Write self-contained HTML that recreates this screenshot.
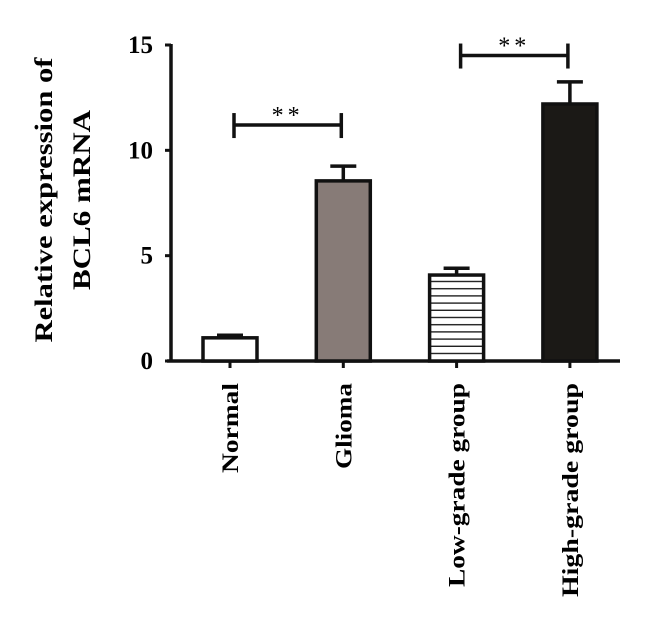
<!DOCTYPE html>
<html><head><meta charset="utf-8"><style>
html,body{margin:0;padding:0;background:#fff;}
svg{display:block;font-family:"Liberation Serif",serif;font-weight:bold;}
</style></head><body>
<svg id="chart" width="660" height="629" viewBox="0 0 660 629" xmlns="http://www.w3.org/2000/svg">
<defs>
<pattern id="hstripe" patternUnits="userSpaceOnUse" width="8" height="7.2" y="275">
<rect width="8" height="7.2" fill="#fff"/>
<rect y="5.8" width="8" height="1.6" fill="#222"/>
</pattern>
</defs>
<g id="axes"></g>
<g id="bars"></g>
<text transform="translate(52,200) rotate(-90)" text-anchor="middle" font-size="25" textLength="285" lengthAdjust="spacingAndGlyphs">Relative expression of</text>
<text transform="translate(90,200) rotate(-90)" text-anchor="middle" font-size="25" textLength="180" lengthAdjust="spacingAndGlyphs">BCL6 mRNA</text>
</svg>
<script>
const categories = ["Normal","Glioma","Low-grade group","High-grade group"];
const means = [1.1, 8.55, 4.08, 12.2];
const errors = [0.12, 0.7, 0.32, 1.05];
const yTicks = [0, 5, 10, 15];
const sigPairs = [[0,1,"**"],[2,3,"**"]];
const sigLevels = [11.2, 14.5];
const labelLens = [90, 86, 204, 214];

const NS = "http://www.w3.org/2000/svg";
const y0 = 361, pxPerUnit = 316/15;
const yS = v => y0 - v*pxPerUnit;
const xS = i => 230 + i*113.3;
const barW = 54;
const fills = ["#fff","#877b77","url(#hstripe)","#1b1916"];
function mk(tag, attrs, parent){const e=document.createElementNS(NS,tag);for(const k in attrs)e.setAttribute(k,attrs[k]);parent.appendChild(e);return e;}
const axes = document.getElementById('axes');
const bars = document.getElementById('bars');
const svg = document.getElementById('chart');

let yl = mk('line',{x1:171,y1:yS(15)-1,x2:171,y2:y0+1.5,stroke:'#111','stroke-width':3.5},axes);


let xl = mk('line',{x1:167,y1:y0,x2:620,y2:y0,stroke:'#111','stroke-width':3.5},axes);



yTicks.forEach(t=>{
  const tk = mk('line',{x1:165,y1:yS(t),x2:171,y2:yS(t),stroke:'#111','stroke-width':3},axes);
  
  
  const lb = mk('text',{x:153,y:yS(t)+8,'text-anchor':'end','font-size':25},axes);
  lb.textContent = t;
  
  
});

categories.forEach((c,i)=>{
  const x = xS(i);
  const tk = mk('line',{x1:x,y1:y0,x2:x,y2:y0+7,stroke:'#111','stroke-width':3},axes);
  
  
  const lb = mk('text',{transform:`translate(${x+8},383) rotate(-90)`,'text-anchor':'end','font-size':23,textLength:labelLens[i],lengthAdjust:'spacingAndGlyphs'},axes);
  lb.textContent = c;
  
  

  const top = yS(means[i]), etop = yS(means[i]+errors[i]);
  const eb = mk('line',{x1:x,y1:etop,x2:x,y2:top,stroke:'#111','stroke-width':3.5},bars);
  
  
  const cap = mk('line',{x1:x-13,y1:etop,x2:x+13,y2:etop,stroke:'#111','stroke-width':3.5},bars);
  
  
  const r = mk('rect',{x:x-barW/2,y:top,width:barW,height:y0-top,fill:fills[i],stroke:'#111','stroke-width':3.5},bars);
  
  
});

sigPairs.forEach((p,k)=>{
  const xa = xS(p[0])+4, xb = xS(p[1])-2, yy = yS(sigLevels[k]);
  const g = mk('g',{},svg);
  
  
  mk('line',{x1:xa,y1:yy,x2:xb,y2:yy,stroke:'#111','stroke-width':3.5},g);
  mk('line',{x1:xa,y1:yy-12,x2:xa,y2:yy+13,stroke:'#111','stroke-width':3.5},g);
  mk('line',{x1:xb,y1:yy-12,x2:xb,y2:yy+13,stroke:'#111','stroke-width':3.5},g);
  const st = mk('text',{x:(xa+xb)/2,y:yy-2,'text-anchor':'middle','font-size':24,'font-weight':'normal','letter-spacing':4},g);
  st.textContent = p[2];
  
  
});
</script>
</body></html>
